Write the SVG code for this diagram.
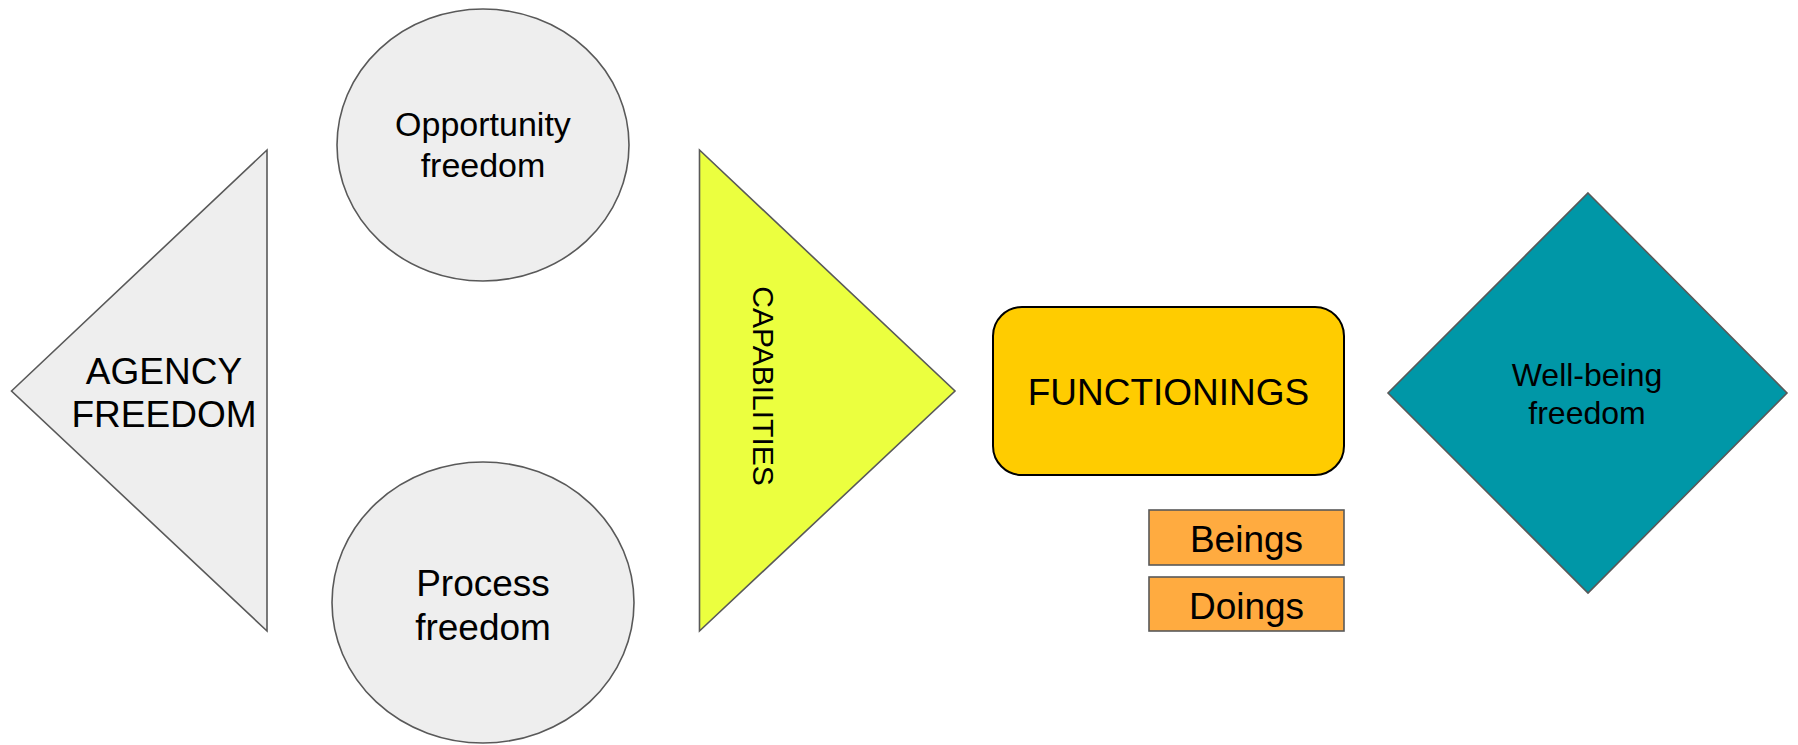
<svg xmlns="http://www.w3.org/2000/svg" width="1798" height="745" viewBox="0 0 1798 745">
<style>
.t{font-family:"Liberation Sans",Arial,sans-serif;fill:#000;text-anchor:middle}
.g{stroke:#595959;stroke-width:1.6}
</style>
<rect width="1798" height="745" fill="#fff"/>
<g id="connectors"></g>
<g id="agency">
<polygon class="g" points="11.5,391 267,150 267,631" fill="#eeeeee"/>
<text class="t" x="164" y="384" font-size="37">AGENCY</text>
<text class="t" x="164" y="427" font-size="37">FREEDOM</text>
</g>
<g id="opportunity">
<ellipse class="g" cx="483" cy="145" rx="146" ry="136" fill="#eeeeee"/>
<text class="t" x="483" y="136" font-size="34">Opportunity</text>
<text class="t" x="483" y="177" font-size="34">freedom</text>
</g>
<g id="process">
<ellipse class="g" cx="483" cy="602.5" rx="151" ry="140.5" fill="#eeeeee"/>
<text class="t" x="483" y="596" font-size="37">Process</text>
<text class="t" x="483" y="640" font-size="37">freedom</text>
</g>
<g id="capabilities">
<polygon class="g" points="699.5,150 955,391 699.5,631" fill="#ebff3f"/>
<text class="t" transform="translate(764,386) rotate(90)" x="0" y="11" font-size="30">CAPABILITIES</text>
</g>
<g id="functionings">
<rect x="993" y="307" width="351" height="168" rx="29" fill="#ffcc00" stroke="#000" stroke-width="2"/>
<text class="t" x="1168.5" y="405" font-size="37">FUNCTIONINGS</text>
</g>
<g id="beings">
<rect class="g" x="1149" y="510" width="195" height="55" fill="#ffab40"/>
<text class="t" x="1246.5" y="552" font-size="37">Beings</text>
</g>
<g id="doings">
<rect class="g" x="1149" y="577" width="195" height="54" fill="#ffab40"/>
<text class="t" x="1246.5" y="619" font-size="37">Doings</text>
</g>
<g id="wellbeing">
<polygon class="g" points="1588,193 1787,393 1588,593 1388,393" fill="#0097a7"/>
<text class="t" x="1587" y="386" font-size="32">Well-being</text>
<text class="t" x="1587" y="424" font-size="32">freedom</text>
</g>
</svg>
